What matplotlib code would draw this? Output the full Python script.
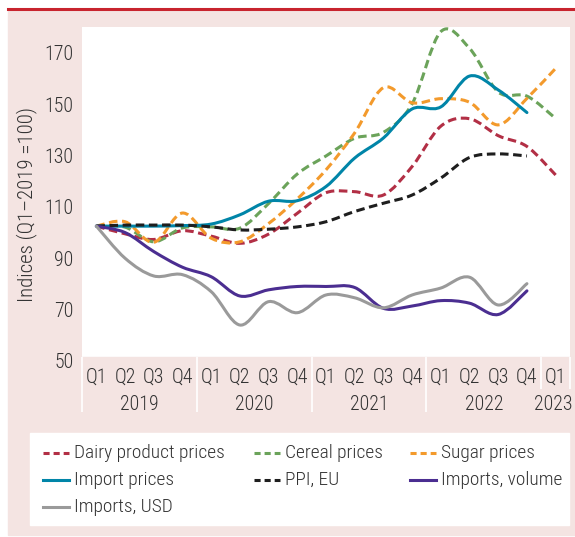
import numpy as np
import matplotlib
matplotlib.use('Agg')
import matplotlib.pyplot as plt
from matplotlib import font_manager as fm
from matplotlib.path import Path
from matplotlib.patches import PathPatch, Rectangle
from matplotlib.lines import Line2D
from matplotlib.textpath import TextPath

quarters = ['Q1', 'Q2', 'Q3', 'Q4'] * 4 + ['Q1']
years = ['2019', '2020', '2021', '2022', '2023']

dairy = [102.5, 99.5, 97.3, 100.7, 98.6, 95.8, 99.4, 107.5, 115.5, 115.9, 114.6, 125.7, 141.4, 144.3, 137.7, 133.5, 122.4]
cereal = [102.5, 102.1, 96.4, 101.8, 102.2, 101.7, 111.3, 122.8, 129.8, 136.7, 139.0, 150.1, 178.2, 171.7, 154.7, 153.1, 144.4]
sugar = [102.5, 104.2, 96.2, 107.6, 97.8, 96.4, 103.5, 113.1, 124.4, 138.8, 156.4, 150.5, 152.1, 150.7, 141.9, 152.2, 163.9]
import_prices = [102.5, 102.5, 102.5, 102.7, 103.3, 106.9, 112.2, 112.4, 117.9, 129.0, 136.8, 148.1, 148.9, 160.9, 155.5, 146.7]
ppi = [102.5, 102.9, 102.9, 102.9, 102.2, 101.0, 101.3, 102.2, 104.2, 108.2, 111.4, 114.6, 121.2, 129.2, 130.6, 129.8]
imports_volume = [102.5, 100.0, 92.6, 86.5, 82.8, 75.3, 77.7, 79.0, 79.0, 78.6, 70.5, 71.4, 73.5, 72.5, 68.1, 77.3]
imports_usd = [102.5, 90.0, 83.1, 83.6, 77.0, 64.0, 73.1, 68.8, 75.7, 74.6, 70.7, 75.7, 78.4, 82.6, 71.8, 80.1]

W, H = 575, 537
pink = '#F4E4E2'
text_col = '#333333'

# 找一个窄体字体 (原图是窄体), 有细体就用细体
family, stretch, weight = 'Liberation Sans', 'normal', 'normal'
for pref in ['liberation sans narrow', 'roboto condensed', 'dejavu sans', 'open sans', 'noto sans']:
    hits = [f for f in fm.fontManager.ttflist
            if f.name.lower().startswith(pref) and f.style == 'normal'
            and ('narrow' in f.name.lower() or 'condensed' in f.name.lower()
                 or f.stretch in ('condensed', 'semi-condensed'))]
    if hits:
        family, stretch = hits[0].name, hits[0].stretch
        ws = [fm.weight_dict.get(f.weight, f.weight) if isinstance(f.weight, str) else f.weight
              for f in hits if f.name == family]
        if any(w == 300 for w in ws):
            weight = 'light'
        break
plt.rcParams['font.family'] = [family, 'DejaVu Sans']
plt.rcParams['font.stretch'] = stretch
plt.rcParams['font.weight'] = weight


def fx(px):
    return px / W


def fy(py):
    return 1 - py / H


def smooth_path(values):
    # 类似 Excel 的平滑线: Catmull-Rom 转成三次贝塞尔
    pts = np.column_stack([np.arange(len(values)), values]).astype(float)
    n = len(pts)
    verts = [pts[0]]
    codes = [Path.MOVETO]
    for k in range(n - 1):
        p0 = pts[k - 1] if k > 0 else pts[k]
        p1 = pts[k]
        p2 = pts[k + 1]
        p3 = pts[k + 2] if k + 2 < n else pts[k + 1]
        verts += [p1 + (p2 - p0) / 6, p2 - (p3 - p1) / 6, p2]
        codes += [Path.CURVE4] * 3
    return Path(verts, codes)


fig = plt.figure(figsize=(5.75, 5.37), dpi=100)
renderer = fig.canvas.get_renderer()


def fit_width(s, width_px):
    # 按原图文字宽度定字号
    t = fig.text(0, 0, s, fontsize=20)
    w = t.get_window_extent(renderer).width
    t.remove()
    return 20 * width_px / w


def fit_height(s, height_px):
    # 按原图数字高度定字号
    h = TextPath((0, 0), s, size=20, prop=fm.FontProperties()).get_extents().height
    return 20 * height_px / (h * 100 / 72)


fs_leg = fit_width('Dairy product prices', 151)
fs_tick = fit_height('170', 14.5)
fs_lab = fit_width('Indices (Q1\u20132019 =100)', 195)

fig.add_artist(Rectangle((fx(8), fy(535)), 1 - fx(8), fy(11) - fy(535), color=pink, zorder=-2))
fig.add_artist(Line2D([fx(8), 1], [fy(9), fy(9)], color='#C8242E', lw=2.2))
fig.add_artist(Rectangle((fx(30), fy(525)), fx(569) - fx(30), fy(433) - fy(525), color='white', zorder=-1))

ax = fig.add_axes([fx(82), fy(361), fx(570) - fx(82), fy(27) - fy(361)])
ax.set_facecolor('white')
# 分类标签带的粉色略微压住绘图区底部
ax.add_patch(Rectangle((0, 0), 1, 4 / 334, transform=ax.transAxes, color=pink, zorder=3, clip_on=False))

series = [
    ('Dairy product prices', dairy, '#B22F45', True),
    ('Cereal prices', cereal, '#6BA35A', True),
    ('Sugar prices', sugar, '#F39A2C', True),
    ('Import prices', import_prices, '#0085A8', False),
    ('PPI, EU', ppi, '#1E1E1E', True),
    ('Imports, volume', imports_volume, '#4B2E91', False),
    ('Imports, USD', imports_usd, '#9A9A9A', False),
]

for name, vals, col, dashed in series:
    if dashed:
        ax.add_patch(PathPatch(smooth_path(vals), fill=False, edgecolor=col, lw=2.2,
                               linestyle=(0, (2.8, 1.5)), capstyle='butt'))
    else:
        ax.add_patch(PathPatch(smooth_path(vals), fill=False, edgecolor=col, lw=2.2,
                               capstyle='round', joinstyle='round'))

ax.set_xlim(-0.5, 16.5)
ax.set_ylim(50, 180)
ax.set_yticks(range(50, 171, 20))
ax.set_xticks(range(17))
ax.set_xticklabels(quarters)
ax.tick_params(length=0, labelsize=fs_tick, labelcolor=text_col)
ax.tick_params(axis='y', pad=6)
ax.tick_params(axis='x', pad=5)
for s in ax.spines.values():
    s.set_visible(False)

# 年份和分隔线 (2023 只有一个季度, 标签往右挤)
year_pos = [1.5, 5.5, 9.5, 13.5, 15.9]
for yr, xp in zip(years, year_pos):
    ax.text(xp, -0.13, yr, transform=ax.get_xaxis_transform(), ha='center', va='center',
            fontsize=fs_tick, color=text_col, clip_on=False)
ax.vlines([-0.5, 3.5, 7.5, 11.5], -0.153, 0.012, transform=ax.get_xaxis_transform(),
          colors='white', lw=1.2, clip_on=False, zorder=4)
ax.vlines([15.5, 16.5], -0.085, 0.012, transform=ax.get_xaxis_transform(),
          colors='white', lw=1.2, clip_on=False, zorder=4)

fig.text(fx(27), fy(205), 'Indices (Q1\u20132019 =100)', rotation=90, ha='center', va='center',
         fontsize=fs_lab, color=text_col)

# 图例: 三列, 手动摆放
col_x = [43, 254, 410]
row_y = [452.7, 480, 507.3]
for k, (name, vals, col, dashed) in enumerate(series):
    hx, ry = col_x[k % 3], row_y[k // 3]
    ls = (0, (2.0, 1.3)) if dashed else '-'
    fig.add_artist(Line2D([fx(hx), fx(hx + 26)], [fy(ry), fy(ry)], color=col, lw=2.2, linestyle=ls))
    fig.text(fx(hx + 31), fy(ry), name, ha='left', va='center', fontsize=fs_leg, color=text_col)

fig.savefig('out.png', dpi=100)
